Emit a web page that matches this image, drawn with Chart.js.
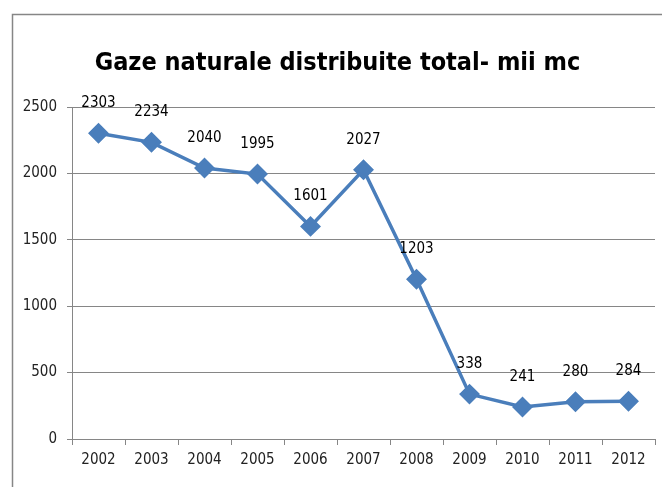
<!DOCTYPE html>
<html>
<head>
<meta charset="utf-8">
<script src="https://cdn.jsdelivr.net/npm/chart.js@4"></script>
<style>
  html, body { margin: 0; padding: 0; background: #fff; }
  #wrap { width: 662px; height: 487px; position: relative; }
</style>
</head>
<body>
<div id="wrap"><canvas id="Graph1" width="662" height="487"></canvas></div>
<script>
const years = ['2002', '2003', '2004', '2005', '2006', '2007', '2008', '2009', '2010', '2011', '2012'];
const gas = [2303, 2234, 2040, 1995, 1601, 2027, 1203, 338, 241, 280, 284];
const yTicks = [0, 500, 1000, 1500, 2000, 2500];

const fontName = "'Liberation Sans Narrow', 'DejaVu Sans Condensed', sans-serif";

// frame around the chart + value labels over the points
const extras = {
    id: 'extras',
    beforeDraw(chart) {
        const ctx = chart.ctx;
        ctx.save();
        ctx.strokeStyle = '#868686';
        ctx.lineWidth = 1.5;
        ctx.beginPath();
        ctx.moveTo(12.5, 487);
        ctx.lineTo(12.5, 14.5);
        ctx.lineTo(662, 14.5);
        ctx.stroke();
        ctx.restore();
    },
    afterDatasetsDraw(chart) {
        const ctx = chart.ctx;
        const meta = chart.getDatasetMeta(0);
        ctx.save();
        ctx.font = '15px ' + fontName;
        ctx.fillStyle = '#000';
        ctx.textAlign = 'center';
        ctx.textBaseline = 'middle';
        meta.data.forEach((pt, i) => {
            ctx.fillText(gas[i], pt.x, pt.y - 30);
        });
        ctx.restore();
    }
};

new Chart(document.getElementById('Graph1'), {
    type: 'line',
    data: {
        labels: years,
        datasets: [{
            label: 'Gaze naturale',
            data: gas,
            borderColor: '#4a7ebb',
            backgroundColor: '#4a7ebb',
            borderWidth: 3.5,
            pointStyle: 'rectRot',
            pointRadius: 8,
            pointHoverRadius: 8,
            tension: 0
        }]
    },
    options: {
        responsive: false,
        animation: false,
        layout: { autoPadding: false, padding: { top: 0, right: 7, bottom: 0, left: 20 } },
        plugins: {
            legend: { display: false },
            tooltip: { enabled: false },
            title: {
                display: true,
                text: 'Gaze naturale distribuite total- mii mc',
                color: '#000',
                font: { family: fontName, size: 25, weight: 'bold' },
                padding: { top: 48, bottom: 29 }
            }
        },
        scales: {
            x: {
                offset: true,
                grid: { offset: true, drawOnChartArea: false, color: '#868686', tickLength: 6 },
                border: { color: '#868686', width: 1 },
                ticks: { color: '#222', font: { family: fontName, size: 15 }, padding: 6 },
                afterFit(scale) { scale.height = 48; }
            },
            y: {
                min: 0,
                max: 2500,
                afterBuildTicks(scale) { scale.ticks = yTicks.map(v => ({ value: v })); },
                grid: { color: '#868686', tickLength: 5 },
                border: { color: '#868686', width: 1 },
                ticks: {
                    color: '#222',
                    font: { family: fontName, size: 15 },
                    padding: 10,
                    callback: v => String(v)
                },
                afterFit(scale) { scale.width = 52; }
            }
        }
    },
    plugins: [extras]
});
</script>
</body>
</html>
